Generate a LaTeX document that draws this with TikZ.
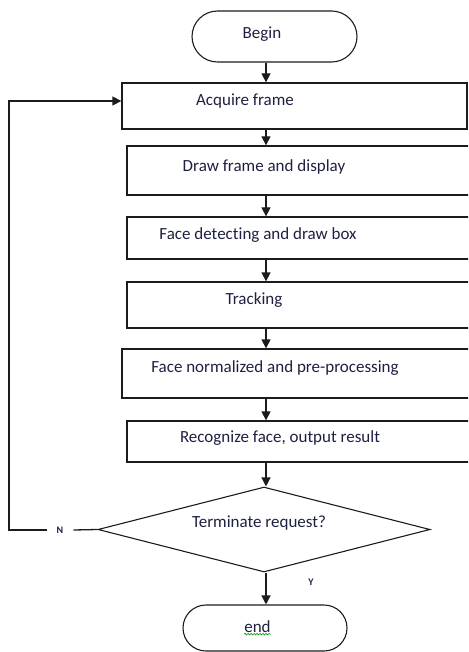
\documentclass[tikz,border=0pt]{standalone}
\usepackage{fontspec}
\setmainfont{Carlito}[Ligatures=NoCommon]
\usetikzlibrary{shapes,arrows.meta,positioning,decorations.pathmorphing}

\definecolor{txtcol}{RGB}{30,32,64}
\definecolor{linecol}{RGB}{28,28,28}

\begin{document}
\begin{tikzpicture}[x=1pt,y=-1pt,
    box/.style={draw=linecol,line width=1.3pt,rectangle,inner sep=0pt},
    term/.style={draw=linecol,line width=1.1pt,rounded rectangle,inner sep=0pt},
    lbl/.style={text=txtcol,font=\fontsize{17}{20}\selectfont,inner sep=0pt},
    yn/.style={text=txtcol,font=\fontsize{10}{12}\selectfont\bfseries},
    arr/.style={-{Triangle[width=9pt,length=9pt]},line width=1.3pt,draw=linecol}]
                \useasboundingbox (0,0) rectangle (468,652);
                \clip (0,0) rectangle (468,652);
                \node[term,minimum width=165,minimum height=51] (begin) at (274.5,36.5) {};
                \node[box,minimum width=345,minimum height=46] (acq) at (294.5,106) {};
                \node[box,minimum width=350,minimum height=49] (drw) at (302,170.5) {};
                \node[box,minimum width=350,minimum height=42] (detect) at (302,238) {};
                \node[box,minimum width=350,minimum height=46] (track) at (302,305) {};
                \node[box,minimum width=355,minimum height=49] (norm) at (299.5,373.5) {};
                \node[box,minimum width=350,minimum height=41] (recog) at (302,441.5) {};
                \node[draw=linecol,line width=1.1pt,diamond,inner sep=0pt,minimum width=332,minimum height=85] (dec) at (264,529.5) {};
                \node[term,minimum width=164,minimum height=46] (end) at (265,628) {};
                \node[lbl] (begintxt) at (262,34) {Begin};
                \node[lbl] (acqtxt) at (245,101) {Acquire frame};
                \node[lbl] (drwtxt) at (264,167) {Draw frame and display};
                \node[lbl] (detecttxt) at (258,235) {Face detecting and draw box};
                \node[lbl] (tracktxt) at (254,300) {Tracking};
                \node[lbl] (normtxt) at (275,368) {Face normalized and pre-processing};
                \node[lbl] (recogtxt) at (280,438) {Recognize face, output result};
                \node[lbl] (dectxt) at (259,523) {Terminate request?};
                \node[lbl] (endtxt) at (257.5,627) {end};
                \node[yn,inner xsep=10pt] (no) at (60,530) {N};
                \node[yn] (yes) at (311,582) {Y};
                \coordinate (axis) at (266,0);
                \coordinate (loop) at (9,530);
                \draw[arr] (axis |- begin.south) -- (axis |- acq.north);
                \draw[arr] (axis |- acq.south) -- (axis |- drw.north);
                \draw[arr] (axis |- drw.south) -- (axis |- detect.north);
                \draw[arr] (axis |- detect.south) -- (axis |- track.north);
                \draw[arr] (axis |- track.south) -- (axis |- norm.north);
                \draw[arr] (axis |- norm.south) -- (axis |- recog.north);
                \draw[arr] (axis |- recog.south) -- (axis |- dec.north);
                \draw[arr] (axis |- dec.south) -- (axis |- end.north);
                \draw[line width=1.3pt,draw=linecol] (dec.west) -- (no.east);
                \draw[arr] (no.west) -- (loop) |- (acq.west |- acqtxt);
                \draw[green!55!black,line width=0.6pt,decorate,decoration={snake,amplitude=0.8pt,segment length=3pt}] ([yshift=-1pt]endtxt.south west) -- ([yshift=-1pt]endtxt.south east);
            \end{tikzpicture}
\end{document}
